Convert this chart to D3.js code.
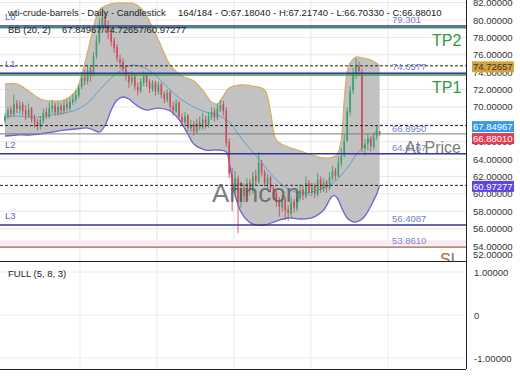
<!DOCTYPE html>
<html><head><meta charset="utf-8">
<script src="https://cdn.jsdelivr.net/npm/d3@7"></script>
<style>
body{margin:0;background:#fff}
svg{display:block}
text{font-family:"Liberation Sans",Arial,sans-serif}
</style>
</head><body>
<svg id="c" width="520" height="390"></svg>
<script>
// ---------- data ----------
const opens=[68.4,68.9,69.7,69.1,70.4,69.7,70.3,69.6,69.0,69.8,
68.7,68.3,67.7,68.4,69.4,68.9,69.8,70.2,69.3,70.1,
69.5,70.3,69.8,70.5,70.8,71.3,72.3,73.4,72.9,74.3,
73.7,75.9,77.5,79.3,80.4,79.3,78.7,77.6,76.9,75.5,
75.2,74.3,73.7,72.9,73.5,72.3,71.8,72.8,73.6,72.9,
72.0,72.8,71.7,72.6,71.5,70.8,71.7,70.1,69.5,70.5,
68.8,68.2,69.0,67.5,68.0,67.1,68.2,67.6,68.6,67.9,
68.8,69.5,68.7,69.7,70.3,69.6,66.0,62.2,60.5,61.7,
59.1,60.7,59.7,61.3,60.3,62.1,61.4,63.5,62.5,61.1,
61.9,60.7,60.1,59.2,58.4,59.4,58.2,57.7,59.1,58.3,
59.5,60.5,59.7,61.3,60.1,60.9,59.9,61.7,60.4,61.4,
60.6,61.8,62.7,62.0,63.5,64.5,66.1,69.4,71.9,73.7,
74.7,74.0,65.2,65.8,66.3,65.4,66.6,67.1804];
const closes=[68.9,69.6,69.2,70.3,69.8,70.2,69.5,69.1,69.7,68.6,
68.2,67.8,68.5,69.3,69.0,69.8,70.1,69.4,70.0,69.6,
70.2,69.9,70.6,70.9,71.4,72.2,73.3,73.0,74.2,73.6,
75.8,77.6,79.4,80.3,79.2,78.6,77.5,76.8,75.6,75.1,
74.4,73.6,72.8,73.4,72.4,71.9,72.9,73.5,72.8,72.1,
72.7,71.8,72.5,71.4,70.9,71.6,70.0,69.6,70.4,68.9,
68.3,68.9,67.6,67.9,67.2,68.1,67.7,68.5,68.0,68.9,
69.4,68.8,69.8,70.2,69.5,65.8,62.3,60.4,61.8,59.0,
60.6,59.8,61.2,60.4,62.0,61.5,63.6,62.4,61.2,61.8,
60.6,60.0,59.1,58.5,59.3,58.1,57.8,59.0,58.4,59.6,
60.4,59.8,61.2,60.2,60.8,60.0,61.6,60.5,61.3,60.7,
61.9,62.6,62.1,63.6,64.4,66.0,69.5,71.8,73.8,74.6,
74.1,65.3,65.7,66.4,65.5,66.5,67.2,66.8801];
const highs=[69.3,70.0,70.1,71.4,70.8,70.7,70.6,70.2,70.4,70.0,
69.1,68.6,68.9,69.8,69.9,70.5,70.8,70.5,70.6,70.4,
70.7,70.8,71.0,71.5,71.9,72.6,74.0,74.3,74.8,74.6,
76.3,78.2,80.2,81.4,80.9,79.9,79.0,78.0,77.2,76.0,
75.6,74.8,74.0,74.1,73.8,72.8,73.3,74.1,73.9,73.2,
73.1,73.0,72.9,72.8,71.8,72.0,71.9,70.6,70.9,70.7,
69.3,69.4,69.2,68.5,68.4,68.6,68.9,69.3,69.0,69.4,
70.0,69.9,70.4,70.8,70.7,70.0,66.4,63.0,62.6,62.1,
61.4,61.2,61.8,61.7,62.5,62.8,64.8,63.9,62.8,62.3,
62.1,61.0,60.4,59.6,59.9,59.7,58.7,59.6,59.4,60.3,
61.1,60.9,62.0,61.6,61.3,61.2,62.4,62.0,61.8,61.6,
62.5,63.2,63.0,64.3,65.3,66.8,70.0,72.4,74.5,75.6,
75.2,74.4,66.3,66.9,66.6,67.0,67.8,67.2174];
const lows=[68.1,68.6,68.8,68.9,69.3,69.2,69.0,68.5,68.8,68.2,
67.6,67.3,67.4,68.1,68.6,68.7,69.3,69.0,69.0,69.1,
69.2,69.5,69.6,70.2,70.5,71.0,72.0,72.5,72.6,72.9,
73.5,75.5,77.2,79.0,78.6,77.8,77.0,76.2,75.2,74.4,
73.8,73.0,72.2,72.5,71.9,71.3,71.6,72.4,72.3,71.6,
71.7,71.3,71.4,71.0,70.4,70.5,69.6,69.0,69.3,68.5,
67.8,67.9,67.2,67.1,66.7,66.9,67.3,67.4,67.5,67.6,
68.5,68.3,68.5,69.4,69.0,65.4,61.8,58.0,59.6,55.5,
58.4,59.0,59.3,59.8,60.0,61.0,61.2,62.0,60.8,60.6,
60.2,59.3,58.5,57.4,57.9,57.0,56.9,57.2,57.8,58.0,
59.2,59.3,59.5,59.8,59.7,59.5,59.7,60.1,60.2,60.1,
60.4,61.5,61.6,61.9,63.1,64.2,65.9,69.0,71.5,73.2,
73.6,64.8,64.4,65.0,64.9,65.1,66.2,66.7033];

const upperIdx=[0,4,8,12,16,20,24,26,28,30,32,36,40,44,46,48,52,56,60,64,68,70,72,74,76,80,84,88,90,92,96,100,104,108,112,113,114,115,116,117,119,121,124,127];
const upperVal=[72.64,72.64,71.83,70.91,70.68,70.79,71.83,73.67,76.32,79.08,81.15,81.84,81.96,81.84,81.38,80.46,77.70,74.82,73.56,72.98,71.48,70.56,70.33,71.25,72.17,72.52,72.40,71.94,69.41,66.19,65.39,64.93,64.47,64.12,64.35,64.81,66.19,70.79,74.02,75.05,75.74,75.63,75.40,74.72657];
const midIdx=[0,4,8,12,16,20,24,28,32,36,40,42,44,48,52,56,60,64,68,72,76,80,84,88,92,96,100,104,108,112,116,119,121,124,127];
const midVal=[68.84,68.95,68.84,68.84,69.07,69.30,69.64,70.45,71.94,73.33,74.36,74.71,74.82,74.36,73.33,71.94,70.79,69.99,69.41,69.07,68.26,66.42,64.81,63.20,61.59,60.55,60.09,60.21,60.67,61.47,62.97,64.47,65.27,66.30,67.84967];
const lowerIdx=[0,4,8,12,16,20,24,28,30,32,34,36,38,40,42,44,46,48,52,56,58,60,62,64,68,72,75,76,77,78,80,82,84,88,92,96,100,104,108,110,111,112,113,114,116,118,120,122,124,126,127];
const lowerVal=[66.65,66.77,66.77,66.88,67.11,67.34,67.46,67.57,67.34,67.11,67.92,69.64,70.79,71.14,70.91,70.33,69.87,69.64,69.87,69.53,68.95,68.03,66.88,65.73,65.04,65.04,64.81,63.66,61.59,59.86,57.91,56.99,56.52,56.41,56.87,57.22,57.10,57.22,58.14,59.29,59.75,59.75,59.29,58.48,57.22,56.76,56.87,57.45,58.60,59.98,60.97277];

const bbCurrent=[67.84967,74.72657,60.97277];   // middle / upper / lower
const lastClose=66.88010;
const priceTicks=[52,54,56,58,60,62,64,66,68,70,72,74,76,78,80,82];
const oscTicks=[1,0,-1];
const levelNames=["L0","L1","L2","L3"];
const levelValues=[79.301,73.88,64.6167,56.4087];
const levelTexts=["79.301","74.6577","64.6167","56.4087"];
const tpNames=["TP2","TP1"];
const tpValues=[79.10,73.68];
const slValue=53.861, slText="53.8610", slZoneTop=54.66;
const refValue=66.895, refText="66.8950";
const gridBars=[25.4,51.5,77.6,103.7,129.8];
const titleMain="wti-crude-barrels - Daily - Candlestick";
const titleOhlc="164/184 - O:67.18040 - H:67.21740 - L:66.70330 - C:66.88010";
const bbName="BB (20, 2)";
const oscName="FULL (5, 8, 3)";

// ---------- layout ----------
const W=466, mainTop=0, mainBot=261, oscBot=369;
const svg=d3.select("#c");
svg.append("rect").attr("width",520).attr("height",390).attr("fill","#fff");
const x=d3.scaleLinear().domain([0,127]).range([5,379.65]);
const y=d3.scaleLinear().domain([52.27,82.30]).range([mainBot,mainTop]);
const yo=d3.scaleLinear().domain([-1.256,1.256]).range([oscBot,mainBot]);

const defs=svg.append("defs");
defs.append("clipPath").attr("id","mclip").append("rect").attr("x",0).attr("y",mainTop).attr("width",W).attr("height",mainBot-mainTop);
defs.append("clipPath").attr("id","oclip").append("rect").attr("x",0).attr("y",mainBot).attr("width",W).attr("height",oscBot-mainBot);

const g=svg.append("g").attr("clip-path","url(#mclip)");
const go=svg.append("g").attr("clip-path","url(#oclip)");

// grid
priceTicks.forEach(t=>g.append("line").attr("x1",0).attr("x2",W).attr("y1",y(t)).attr("y2",y(t)).attr("stroke","#e6e6e6").attr("stroke-width",1));
gridBars.forEach(b=>{
  g.append("line").attr("x1",x(b)).attr("x2",x(b)).attr("y1",mainTop).attr("y2",mainBot).attr("stroke","#e6e6e6");
  go.append("line").attr("x1",x(b)).attr("x2",x(b)).attr("y1",mainBot).attr("y2",oscBot).attr("stroke","#ececec");
});
oscTicks.forEach(t=>go.append("line").attr("x1",0).attr("x2",W).attr("y1",yo(t)).attr("y2",yo(t)).attr("stroke","#ececec"));

// SL zone
g.append("rect").attr("x",0).attr("width",W).attr("y",y(slZoneTop)).attr("height",y(slValue)-y(slZoneTop)).attr("fill","#fcebf1");

// Bollinger
const curve=d3.curveCatmullRom.alpha(0.5);
const upPts=upperIdx.map((d,i)=>[x(d),y(upperVal[i])]);
const loPts=lowerIdx.map((d,i)=>[x(d),y(lowerVal[i])]);
const midPts=midIdx.map((d,i)=>[x(d),y(midVal[i])]);
const ln=d3.line().curve(curve);
const upPath=ln(upPts), loPath=ln(loPts), loRev=ln(loPts.slice().reverse());
g.append("path").attr("d",upPath+"L"+loRev.slice(1)+"Z").attr("fill","#c2c2c2");
g.append("path").attr("d",upPath).attr("fill","none").attr("stroke","#d8ae6c").attr("stroke-width",1.3);
g.append("path").attr("d",loPath).attr("fill","none").attr("stroke","#6d5fd6").attr("stroke-width",1.3);
g.append("path").attr("d",ln(midPts)).attr("fill","none").attr("stroke","#5f9fd2").attr("stroke-width",1);

// candles
const up="#3a9f68", dn="#cc4c5e";
const cg=g.append("g");
closes.forEach((c,i)=>{
  const o=opens[i], col=c>=o?up:dn, cx=x(i);
  cg.append("line").attr("x1",cx).attr("x2",cx).attr("y1",y(highs[i])).attr("y2",y(lows[i])).attr("stroke",col).attr("stroke-width",0.9);
  const t=y(Math.max(o,c)), b=y(Math.min(o,c));
  cg.append("rect").attr("x",cx-0.8).attr("width",1.6).attr("y",t).attr("height",Math.max(1,b-t)).attr("fill",col);
});

// horizontal levels
g.append("line").attr("x1",0).attr("x2",W).attr("y1",y(refValue)).attr("y2",y(refValue)).attr("stroke","#7a7a7a").attr("stroke-width",1);
g.append("line").attr("x1",0).attr("x2",W).attr("y1",y(slValue)).attr("y2",y(slValue)).attr("stroke","#9c6c40").attr("stroke-width",1.2);
tpValues.forEach(v=>g.append("line").attr("x1",0).attr("x2",W).attr("y1",y(v)).attr("y2",y(v)).attr("stroke","#3d9a52").attr("stroke-width",1.5));
levelValues.forEach(v=>g.append("line").attr("x1",0).attr("x2",W).attr("y1",y(v)).attr("y2",y(v)).attr("stroke","#34349a").attr("stroke-width",1.5));
bbCurrent.forEach(v=>g.append("line").attr("x1",0).attr("x2",W).attr("y1",y(v)).attr("y2",y(v)).attr("stroke","#222").attr("stroke-width",1).attr("stroke-dasharray","3,2"));

// texts in the main panel
const fs=9.5;
levelNames.forEach((n,i)=>g.append("text").attr("x",5).attr("y",y(levelValues[i])-6).attr("font-size",fs).attr("fill","#6464c4").text(n));
levelTexts.forEach((t,i)=>g.append("text").attr("x",392).attr("y",y(levelValues[i])-3).attr("font-size",fs).attr("fill","#6f80d4").text(t));
g.append("text").attr("x",392).attr("y",y(refValue)-2).attr("font-size",fs).attr("fill","#6f80d4").text(refText);
g.append("text").attr("x",392).attr("y",y(slValue)-3).attr("font-size",fs).attr("fill","#7f86d4").text(slText);
tpNames.forEach((n,i)=>g.append("text").attr("x",432).attr("y",y(tpValues[i])+18.5).attr("font-size",16).attr("fill","#2f9a3e").text(n));
g.append("text").attr("x",405).attr("y",153).attr("font-size",16).attr("fill","#7c7c7c").text("At Price");
g.append("text").attr("x",440).attr("y",y(slValue)+18).attr("font-size",16).attr("fill","#9c7046").text("SL");
g.append("text").attr("x",212).attr("y",202).attr("font-size",26).attr("fill","#555").attr("opacity",0.75).text("Arincon");

// titles
svg.append("text").attr("x",8).attr("y",16).attr("font-size",fs).attr("fill","#222").text(titleMain);
svg.append("text").attr("x",178).attr("y",16).attr("font-size",fs).attr("fill","#222").text(titleOhlc);
svg.append("text").attr("x",8).attr("y",33).attr("font-size",fs).attr("fill","#222").text(bbName);
svg.append("text").attr("x",62).attr("y",33).attr("font-size",fs).attr("fill","#222").text(bbCurrent[0].toFixed(5)+"/"+bbCurrent[1].toFixed(5)+"/"+bbCurrent[2].toFixed(5));
svg.append("text").attr("x",8).attr("y",277).attr("font-size",fs).attr("fill","#222").text(oscName);

// axes
const ay=svg.append("g").attr("transform",`translate(${W},0)`)
  .call(d3.axisRight(y).tickValues(priceTicks).tickFormat(d=>d.toFixed(5)).tickSize(0).tickPadding(7));
ay.select(".domain").remove();
ay.selectAll("text").attr("font-size",fs).attr("fill","#333").attr("font-family","Liberation Sans, Arial, sans-serif");
ay.selectAll(".tick").filter(d=>y(d)>255).attr("transform",d=>`translate(0,255)`);
const ao=svg.append("g").attr("transform",`translate(${W},0)`)
  .call(d3.axisRight(yo).tickValues(oscTicks).tickFormat(d=>d===0?"0":d.toFixed(5)).tickSize(0).tickPadding(8));
ao.select(".domain").remove();
ao.selectAll("text").attr("font-size",fs).attr("fill","#333").attr("font-family","Liberation Sans, Arial, sans-serif");

// value boxes (pushed apart so they do not overlap)
const boxVals=[bbCurrent[1],bbCurrent[0],lastClose,bbCurrent[2]];
const boxFill=["#d6a23a","#3797ea","#e23b52","#5d45e2"];
const boxText=["#333","#fff","#fff","#fff"];
let prevY=-100;
boxVals.forEach((v,i)=>{
  let cy=y(v)+1;
  if(cy<prevY+12) cy=prevY+12;
  prevY=cy;
  svg.append("rect").attr("x",472).attr("y",cy-5.5).attr("width",42).attr("height",11).attr("fill",boxFill[i]);
  svg.append("text").attr("x",473).attr("y",cy+3.5).attr("font-size",fs).attr("fill",boxText[i]).text(v.toFixed(5));
});

// frame
svg.append("line").attr("x1",W+0.5).attr("x2",W+0.5).attr("y1",0).attr("y2",oscBot).attr("stroke","#222");
svg.append("line").attr("x1",0).attr("x2",W).attr("y1",mainBot+0.5).attr("y2",mainBot+0.5).attr("stroke","#222");
svg.append("line").attr("x1",0).attr("x2",W).attr("y1",oscBot+0.5).attr("y2",oscBot+0.5).attr("stroke","#222");
</script>
</body></html>
